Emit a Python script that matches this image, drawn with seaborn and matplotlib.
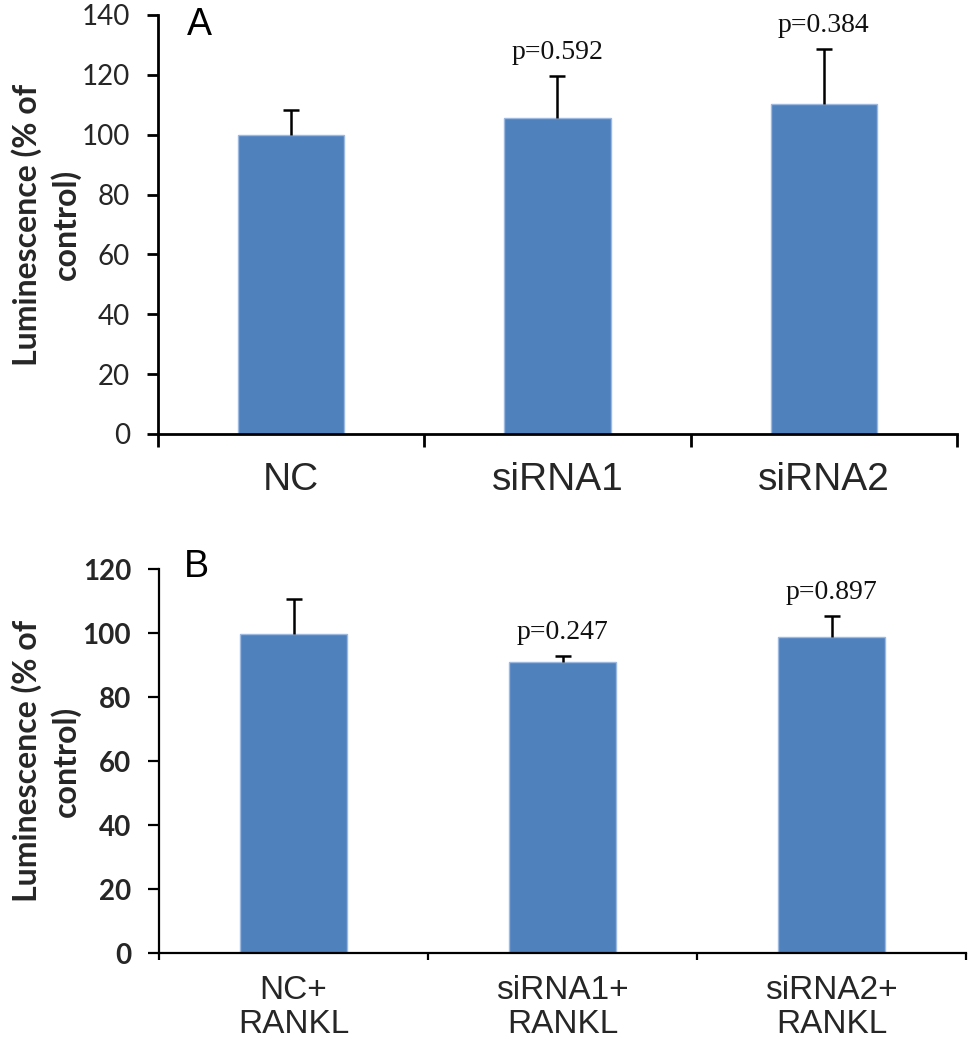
import matplotlib
matplotlib.use("Agg")
import matplotlib.pyplot as plt
import numpy as np
import pandas as pd
import seaborn as sns
from matplotlib.ticker import FixedLocator

# ---------------- data ----------------
cats_a = ["NC", "siRNA1", "siRNA2"]
vals_a = [100.0, 105.6, 110.3]
errs_a = [8.3, 14.1, 18.4]
plabels_a = ["", "p=0.592", "p=0.384"]

cats_b = ["NC+\nRANKL", "siRNA1+\nRANKL", "siRNA2+\nRANKL"]
vals_b = [99.7, 91.0, 98.8]
errs_b = [10.9, 1.8, 6.5]
plabels_b = ["", "p=0.247", "p=0.897"]

yticks_a = [0, 20, 40, 60, 80, 100, 120, 140]
yticks_b = [0, 20, 40, 60, 80, 100, 120]
ylabel_text = "Luminescence (% of\ncontrol)"
panel_letters = ["A", "B"]

BAR = "#4F81BD"

sns.set_theme(style="white")
plt.rcParams["font.family"] = ["Liberation Sans", "DejaVu Sans"]

fig = plt.figure(figsize=(9.68, 10.5), dpi=100)
ax_a = fig.add_axes([0.1632, 0.58667, 0.8254, 0.39905])
ax_b = fig.add_axes([0.1643, 0.09238, 0.8337, 0.36571])


def draw(ax, cats, vals, errs, plabels, yticks, letter, letter_xy,
         xlab_size, lw, xtick_len, linespacing, xpad, tick_weight):
    df = pd.DataFrame({"cat": cats, "val": vals})
    sns.barplot(data=df, x="cat", y="val", color=BAR, width=0.4,
                saturation=1, errorbar=None, ax=ax,
                edgecolor="#9DB9E0", linewidth=1.0)
    x = np.arange(len(cats))
    eb = ax.errorbar(x, vals, yerr=[np.zeros(len(errs)), errs], fmt="none",
                     ecolor="black", elinewidth=1.8, capsize=6, capthick=1.8,
                     zorder=3)
    # hide the lower (zero-length) caps
    caps = eb[1]
    if len(caps) == 2:
        caps[0].set_visible(False)
    for xi, v, e, lab in zip(x, vals, errs, plabels):
        if lab:
            ax.annotate(lab, xy=(xi, v + e), xytext=(0, 12),
                        textcoords="offset points", ha="center",
                        va="baseline", fontsize=20,
                        family="Liberation Serif", color="#111111")
    ax.set_xlim(-0.5, len(cats) - 0.5)
    ax.set_ylim(0, yticks[-1])
    ax.set_yticks(yticks)
    ax.set_yticklabels([str(t) for t in yticks], family="Lato",
                       fontsize=20, fontweight=tick_weight)
    ax.set_xticks(x)
    ax.set_xticklabels(cats, fontsize=xlab_size, linespacing=linespacing)
    ax.xaxis.set_minor_locator(FixedLocator(np.arange(-0.5, len(cats), 1.0)))
    ax.tick_params(axis="x", which="major", length=0, pad=xpad)
    ax.tick_params(axis="x", which="minor", length=xtick_len, width=lw,
                   direction="out", color="black", bottom=True)
    ax.tick_params(axis="y", which="major", length=8, width=lw,
                   direction="out", color="black", left=True, pad=12)
    ax.set_xlabel("")
    ax.set_ylabel(ylabel_text, family="Lato", fontweight="bold",
                  fontsize=23, linespacing=1.3)
    ax.yaxis.set_label_coords(-0.097, 0.5)
    for s in ["top", "right"]:
        ax.spines[s].set_visible(False)
    for s in ["left", "bottom"]:
        ax.spines[s].set_color("black")
        ax.spines[s].set_linewidth(lw)
    ax.text(letter_xy[0], letter_xy[1], letter, transform=ax.transAxes,
            ha="center", va="center", fontsize=27, color="black")
    ax.grid(False)


draw(ax_a, cats_a, vals_a, errs_a, plabels_a, yticks_a, panel_letters[0],
     (0.0513, 0.976), 28, 2.0, 9, 1.2, 20, "normal")
draw(ax_b, cats_b, vals_b, errs_b, plabels_b, yticks_b, panel_letters[1],
     (0.046, 1.005), 24, 1.6, 5, 1.1, 16, "bold")

fig.savefig("out.png", dpi=100, facecolor="white")
